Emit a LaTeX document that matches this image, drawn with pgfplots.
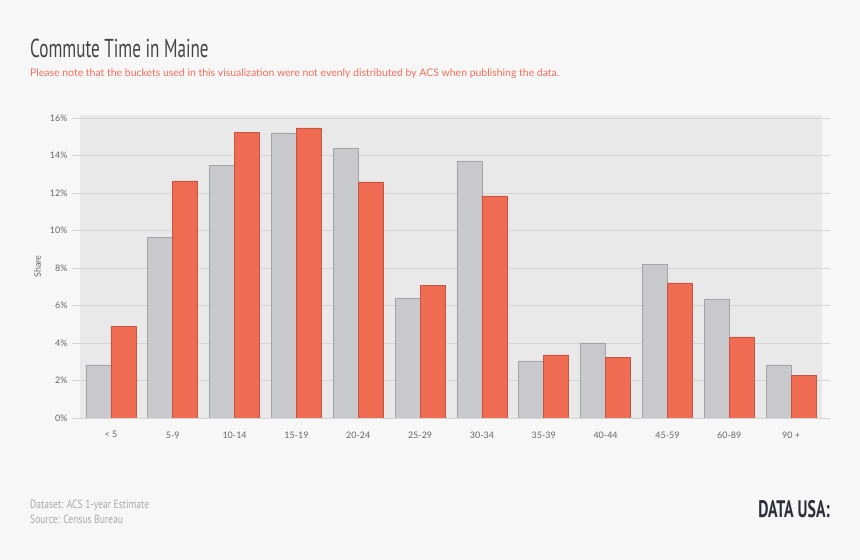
\documentclass[border=0pt]{standalone}
\usepackage{fontspec}
\setmainfont{Lato}
\newfontfamily\titlefont[FakeStretch=0.66]{PT Sans}
\newfontfamily\footfont[FakeStretch=0.8]{PT Sans}
\usepackage{pgfplots}
\pgfplotsset{compat=1.18}
\definecolor{pagebg}{HTML}{F7F7F7}
\definecolor{plotbg}{HTML}{E9E9E9}
\definecolor{gridc}{HTML}{D5D5D5}
\definecolor{greybar}{HTML}{C8C9CD}
\definecolor{greyedge}{HTML}{A3A4A8}
\definecolor{redbar}{HTML}{EF6C53}
\definecolor{rededge}{HTML}{C65543}
\definecolor{subred}{HTML}{F2705A}
\definecolor{ticktext}{HTML}{666666}
\definecolor{foottext}{HTML}{A8A8A8}
\definecolor{titletext}{HTML}{444444}
\definecolor{logo}{HTML}{2C2F3A}
\begin{document}
\begin{tikzpicture}[x=1bp,y=1bp]
\fill[pagebg] (0,0) rectangle (860,560);
\node[anchor=base west,inner sep=0,text=titletext,font=\titlefont\fontsize{26}{26}\selectfont] at (30,502) {Commute Time in Maine};
\node[anchor=base west,inner sep=0,text=subred,font=\fontsize{10.5}{12}\selectfont] at (30,483.5) {Please note that the buckets used in this visualization were not evenly distributed by ACS when publishing the data.};
\node[anchor=base west,inner sep=0,text=foottext,font=\footfont\fontsize{12}{12}\selectfont] at (30,51) {Dataset: ACS 1-year Estimate};
\node[anchor=base west,inner sep=0,text=foottext,font=\footfont\fontsize{12}{12}\selectfont] at (30,36) {Source: Census Bureau};
\node[anchor=base east,inner sep=0,text=logo,font=\titlefont\bfseries\fontsize{24}{24}\selectfont] at (830,42) {DATA USA:};
\begin{axis}[
  at={(80bp,142bp)}, anchor=south west,
  scale only axis, width=742bp, height=303bp,
  ybar=0pt, bar width=25bp,
  xmin=-0.5, xmax=11.5, ymin=0, ymax=16.16,
  axis background/.style={fill=plotbg},
  axis line style={draw=none},
  ymajorgrids, grid style={gridc, line width=0.8bp},
  ytick={0,2,...,16},
  yticklabel={\pgfmathprintnumber{\tick}\%},
  ytick style={draw=gridc, line width=0.8bp},
  major tick length=8bp, tick align=outside,
  xtick=data, xtick style={draw=none},
  xticklabels={< 5,5-9,10-14,15-19,20-24,25-29,30-34,35-39,40-44,45-59,60-89,90 +},
  ticklabel style={text=ticktext, font=\fontsize{9}{10}\selectfont},
  /pgf/number format/assume math mode=true,
  yticklabel style={xshift=-1bp},
  xticklabel style={yshift=-2bp},
  ylabel={Share},
  every axis y label/.style={at={(axis description cs:-0.057,0.5)}, anchor=center, rotate=90, text=ticktext, font=\fontsize{9}{10}\selectfont},
]
\addplot[fill=greybar, draw=greyedge, line width=0.8bp] coordinates {
(0,2.83) (1,9.65) (2,13.49) (3,15.20) (4,14.40) (5,6.40) (6,13.71) (7,3.04) (8,4.00) (9,8.21) (10,6.35) (11,2.83)};
\addplot[fill=redbar, draw=rededge, line width=0.8bp] coordinates {
(0,4.90) (1,12.64) (2,15.25) (3,15.47) (4,12.59) (5,7.09) (6,11.84) (7,3.36) (8,3.25) (9,7.20) (10,4.32) (11,2.29)};
\end{axis}
\end{tikzpicture}
\end{document}
